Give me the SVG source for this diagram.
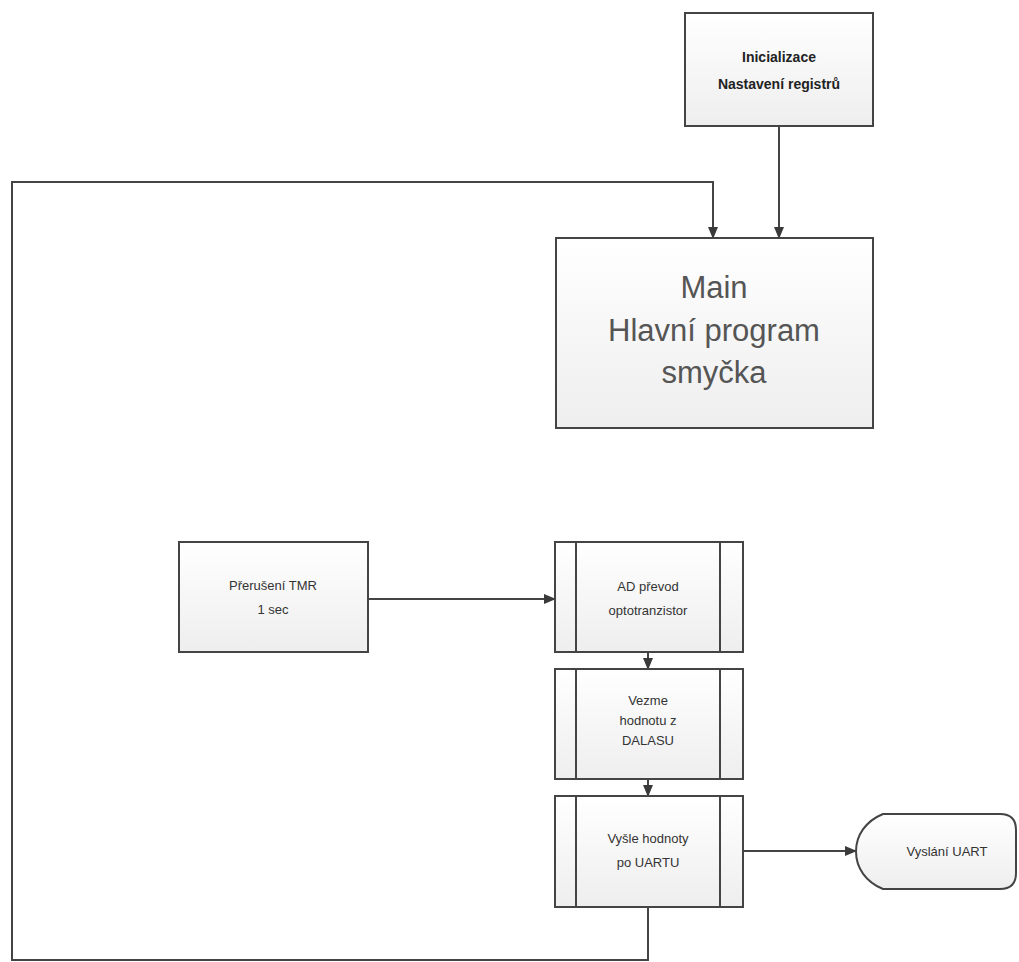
<svg xmlns="http://www.w3.org/2000/svg" width="1019" height="962" viewBox="0 0 1019 962">
<defs>
<linearGradient id="g" x1="0" y1="0" x2="0" y2="1">
<stop offset="0" stop-color="#ffffff"/>
<stop offset="1" stop-color="#eeeeee"/>
</linearGradient>
<marker id="ah" markerWidth="12" markerHeight="10" refX="11" refY="5" orient="auto" markerUnits="userSpaceOnUse">
<path d="M0,0 L12,5 L0,10 Z" fill="#3a3a3a"/>
</marker>
<style>
.box{fill:url(#g);stroke:#444;stroke-width:2}
.ln{fill:none;stroke:#444;stroke-width:2}
.c{fill:none;stroke:#444;stroke-width:2}
.t{font-family:"Liberation Sans",Arial,sans-serif;font-size:13px;fill:#333;text-anchor:middle}
.tb{font-family:"Liberation Sans",Arial,sans-serif;font-size:14px;font-weight:bold;fill:#222;text-anchor:middle}
.tm{font-family:"Liberation Sans",Arial,sans-serif;font-size:31px;fill:#555;text-anchor:middle}
</style>
</defs>
<rect width="1019" height="962" fill="#ffffff"/>
<g id="connectors">
<path class="c" d="M779,126 V238" marker-end="url(#ah)"/>
<path class="c" d="M648,907 V960 H12 V182 H713 V238" marker-end="url(#ah)"/>
<path class="c" d="M368,599 H555" marker-end="url(#ah)"/>
<path class="c" d="M648,652 V669" marker-end="url(#ah)"/>
<path class="c" d="M648,779 V796" marker-end="url(#ah)"/>
<path class="c" d="M743,851 H856" marker-end="url(#ah)"/>
</g>
<g id="init">
<rect class="box" x="685" y="13" width="188" height="113"/>
<text class="tb" x="779" y="62">Inicializace</text>
<text class="tb" x="779" y="89">Nastavení registrů</text>
</g>
<g id="main">
<rect class="box" x="556" y="238" width="317" height="190"/>
<text class="tm" x="714" y="298">Main</text>
<text class="tm" x="714" y="341">Hlavní program</text>
<text class="tm" x="714" y="383">smyčka</text>
</g>
<g id="tmr">
<rect class="box" x="179" y="542" width="189" height="110"/>
<text class="t" x="273" y="590">Přerušení TMR</text>
<text class="t" x="273" y="614">1  sec</text>
</g>
<g id="ad">
<rect class="box" x="555" y="542" width="188" height="110"/>
<path class="ln" d="M576,542 V652 M720,542 V652"/>
<text class="t" x="648" y="591">AD převod</text>
<text class="t" x="648" y="615">optotranzistor</text>
</g>
<g id="vezme">
<rect class="box" x="555" y="669" width="188" height="110"/>
<path class="ln" d="M576,669 V779 M720,669 V779"/>
<text class="t" x="648" y="705">Vezme</text>
<text class="t" x="648" y="725">hodnotu z</text>
<text class="t" x="648" y="745">DALASU</text>
</g>
<g id="vysle">
<rect class="box" x="555" y="796" width="188" height="111"/>
<path class="ln" d="M576,796 V907 M720,796 V907"/>
<text class="t" x="648" y="843">Vyšle hodnoty</text>
<text class="t" x="648" y="867">po UARTU</text>
</g>
<g id="vyslani">
<path class="box" d="M883,814 H1000 Q1016,814 1016,830 V873 Q1016,889 1000,889 H883 C866,882 856,868 856,851.5 C856,835 866,821 883,814 Z"/>
<text class="t" x="947" y="856">Vyslání UART</text>
</g>
</svg>
